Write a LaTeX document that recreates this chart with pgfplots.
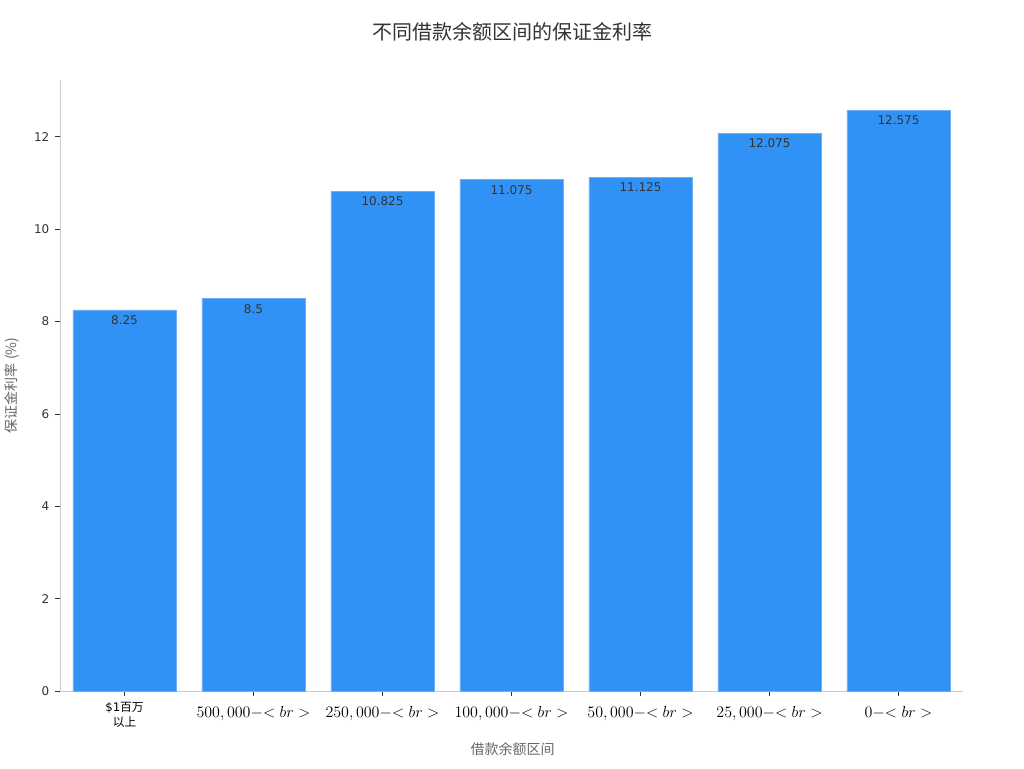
\documentclass[border=0pt]{standalone}
\usepackage{pgfplots}
\pgfplotsset{compat=1.18}
\usepackage{fontspec}
\setmainfont{DejaVu Sans}
\newfontfamily\cjk{Noto Sans CJK SC}

\definecolor{barblue}{RGB}{49,146,246}
\definecolor{baredge}{RGB}{110,175,250}
\definecolor{axgray}{RGB}{204,204,204}
\definecolor{txtdark}{RGB}{51,51,51}
\definecolor{lblgray}{RGB}{102,102,102}

\newcommand{\rng}[1]{{\fontsize{11.5}{12}\selectfont\rule{0pt}{11pt}$#1\mathord{-}\mathord{<}\;br\;\mathord{>}$}}

\begin{document}
\begin{tikzpicture}
\useasboundingbox (0,0) rectangle (768pt,576pt);
\begin{axis}[
  at={(45pt,57.75pt)}, anchor=south west,
  scale only axis,
  width=677.25pt, height=458.25pt,
  xmin=-0.5, xmax=6.5,
  ymin=0, ymax=13.23,
  axis x line*=bottom, axis y line*=left,
  axis line style={axgray, line width=0.6pt},
  ytick={0,2,4,6,8,10,12},
  xtick={0,1,2,3,4,5,6},
  xticklabels={
    {\$1{\cjk 百万}\\{\cjk 以上}},
    {\rng{500,000}},
    {\rng{250,000}},
    {\rng{100,000}},
    {\rng{50,000}},
    {\rng{25,000}},
    {\rng{0}}},
  tick align=outside,
  major tick length=3.5pt,
  tick style={txtdark, line width=0.5pt},
  /pgf/number format/assume math mode=true,
  y tick label style={font=\fontsize{9}{10}\selectfont, text=txtdark, xshift=-1pt},
  x tick label style={font=\fontsize{8.8}{11}\selectfont, text=black, align=center, yshift=-1.5pt, anchor=north},
  ybar, bar width=0.8,
  nodes near coords,
  point meta=explicit symbolic,
  every node near coord/.append style={anchor=north, font=\fontsize{9}{10}\selectfont, text=txtdark, inner sep=4pt},
]
\addplot[fill=barblue, draw=baredge, line width=0.5pt] coordinates {
  (0, 8.25)   [8.25]
  (1, 8.5)    [8.5]
  (2, 10.825) [10.825]
  (3, 11.075) [11.075]
  (4, 11.125) [11.125]
  (5, 12.075) [12.075]
  (6, 12.575) [12.575]
};
\end{axis}
\node[text=txtdark, font=\cjk\fontsize{15}{18}\selectfont] at (384pt,552pt) {不同借款余额区间的保证金利率};
\node[text=lblgray, font=\cjk\fontsize{10.5}{12}\selectfont] at (384.5pt,14pt) {借款余额区间};
\node[text=lblgray, font=\cjk\fontsize{10.5}{12}\selectfont, rotate=90] at (9pt,287pt) {保证金利率 (\%)};
\end{tikzpicture}
\end{document}
